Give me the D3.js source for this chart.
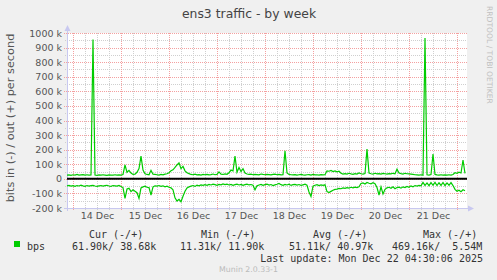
<!DOCTYPE html>
<html>
<head>
<meta charset="utf-8">
<script src="https://cdn.jsdelivr.net/npm/d3@7"></script>
<style>
body { margin:0; background:#f0f0f0; }
svg { display:block; }
text { font-family:"DejaVu Sans", sans-serif; }
.mono { font-family:"DejaVu Sans Mono", monospace; white-space:pre; }
</style>
</head>
<body>
<div id="chart"></div>
<script>
// ---- data (k bits/s), one point per hour from 13 Dec 21:00 ----
var outVals = [
  25,27,24,28,26,30,25,27,29,26,28,25,27,
  955,
  26,24,27,25,28,26,24,27,25,26,28,25,27,26,30,
  95,45,58,40,30,32,45,70,156,60,35,30,28,58,32,30,
  28,26,30,27,32,35,
  42,55,62,78,95,110,70,85,55,42,36,
  30,28,32,27,29,26,30,28,31,27,29,33,28,30,
  48,32,30,34,31,42,60,55,156,45,78,50,70,40,33,
  30,32,28,31,29,27,33,30,28,31,29,27,30,32,28,30,27,29,
  193,40,
  30,28,27,29,26,28,30,27,25,28,29,26,30,27,28,26,29,27,28,
  55,52,57,50,54,48,52,38,33,
  35,32,38,34,31,36,33,40,35,32,36,
  204,40,
  35,33,38,34,36,32,37,35,33,36,34,38,35,
  66,40,
  36,33,38,35,34,32,30,28,27,26,28,25,
  965,28,
  25,30,170,30,
  27,25,28,26,27,25,28,26,30,
  42,38,46,40,129,38
];
var inVals = [
  48,45,50,47,52,46,49,44,48,51,46,50,47,45,49,52,48,46,50,47,44,49,51,46,48,50,45,
  52,60,134,70,65,88,75,85,95,134,62,55,50,58,60,111,55,48,
  50,46,52,48,55,50,58,62,
  75,130,152,140,157,120,85,62,55,
  50,46,52,44,48,42,45,40,44,38,42,36,40,44,38,41,35,40,37,42,38,44,
  40,36,42,38,45,40,36,42,39,44,
  75,48,
  42,38,45,40,36,43,39,46,41,37,32,40,44,38,42,36,45,40,38,43,39,45,41,37,44,
  90,121,50,
  44,40,46,42,45,41,
  88,94,86,78,
  72,70,66,68,62,65,60,63,58,62,57,60,55,
  32,28,35,25,30,34,27,33,
  60,111,55,104,72,
  62,58,65,55,68,60,57,64,55,60,52,58,48,54,46,50,45,48,
  25,45,28,47,26,44,24,46,27,45,25,47,28,44,26,46,
  72,85,78,88,75,82
];
var yTicks = [-200,-100,0,100,200,300,400,500,600,700,800,900,1000];
var dayLabels = ['14 Dec','15 Dec','16 Dec','17 Dec','18 Dec','19 Dec','20 Dec','21 Dec'];
var statHeads = ['Cur (-/+)','Min (-/+)','Avg (-/+)','Max (-/+)'];
var statVals = ['61.90k/ 38.68k','11.31k/ 11.90k','51.11k/ 40.97k','469.16k/  5.54M'];
var seriesName = 'bps';
var lastUpdate = 'Last update: Mon Dec 22 04:30:06 2025';

const W = 497, H = 280;
const plot = {left:67, right:467, top:33, bottom:208};
const t0 = new Date(2025,11,13,21,0,0);
const t1 = new Date(2025,11,22,5,0,0);
const HOUR = 3600*1000;

const svg = d3.select('#chart').append('svg').attr('width',W).attr('height',H);
svg.append('rect').attr('width',W).attr('height',H).attr('fill','#f0f0f0');
svg.append('rect').attr('x',plot.left).attr('y',plot.top)
    .attr('width',plot.right-plot.left).attr('height',plot.bottom-plot.top).attr('fill','#ffffff');

var x = d3.scaleTime().domain([t0,t1]).range([plot.left,plot.right]);
var y = d3.scaleLinear().domain([-200,1000]).range([plot.bottom,plot.top]);

// minor grid
var grid = svg.append('g').attr('shape-rendering','crispEdges');
d3.range(-150,1000,100).forEach(v=>{
    grid.append('line').attr('x1',plot.left-2).attr('x2',plot.right)
        .attr('y1',Math.round(y(v))+0.5).attr('y2',Math.round(y(v))+0.5)
        .attr('stroke','#cfcfcf').attr('stroke-dasharray','1,1');
});
x.ticks(d3.timeHour.every(6)).forEach(t=>{
    if(t.getHours()==0) return;
    grid.append('line').attr('y1',plot.top).attr('y2',plot.bottom+3)
        .attr('x1',Math.round(x(t))+0.5).attr('x2',Math.round(x(t))+0.5)
        .attr('stroke','#cfcfcf').attr('stroke-dasharray','1,1');
});
// major grid
yTicks.forEach(v=>{
    grid.append('line').attr('x1',plot.left-3).attr('x2',plot.right)
        .attr('y1',Math.round(y(v))+0.5).attr('y2',Math.round(y(v))+0.5)
        .attr('stroke','#f4a0a0').attr('stroke-dasharray','1,1');
});
x.ticks(d3.timeDay.every(1)).forEach(t=>{
    grid.append('line').attr('y1',plot.top).attr('y2',plot.bottom+3)
        .attr('x1',Math.round(x(t))+0.5).attr('x2',Math.round(x(t))+0.5)
        .attr('stroke','#f4a0a0').attr('stroke-dasharray','1,1');
});

// axes lines + arrows
svg.append('line').attr('x1',plot.left+0.5).attr('x2',plot.left+0.5).attr('y1',plot.bottom+3).attr('y2',plot.top-4)
    .attr('stroke','#c8c8f0');
svg.append('line').attr('x1',plot.left-3).attr('x2',plot.right+3).attr('y1',plot.bottom+0.5).attr('y2',plot.bottom+0.5)
    .attr('stroke','#c8c8f0');
svg.append('path').attr('d',`M${plot.left-2.5},${plot.top-2} L${plot.left+0.5},${plot.top-8} L${plot.left+3.5},${plot.top-2} Z`).attr('fill','#c8c8f0');
svg.append('path').attr('d',`M${plot.right+1},${plot.bottom-2.5} L${plot.right+7},${plot.bottom+0.5} L${plot.right+1},${plot.bottom+3.5} Z`).attr('fill','#c8c8f0');

// y axis labels
var yAxis = d3.axisLeft(y).tickValues(yTicks).tickSize(0).tickPadding(0)
    .tickFormat(v=> v==0 ? '0' : v+' k');
var gy = svg.append('g').attr('transform',`translate(${plot.left-5},0)`).call(yAxis);
gy.select('.domain').remove();
gy.selectAll('text').attr('font-family','DejaVu Sans').attr('font-size','9.5px').attr('fill','#555');

// x axis day labels at noon
var noons = dayLabels.map((d,i)=>new Date(2025,11,14+i,12,0,0));
var xAxis = d3.axisBottom(x).tickValues(noons).tickSize(0).tickPadding(0)
    .tickFormat((d,i)=>dayLabels[i]);
var gx = svg.append('g').attr('transform',`translate(0,${plot.bottom+4})`).call(xAxis);
gx.select('.domain').remove();
gx.selectAll('text').attr('font-family','DejaVu Sans').attr('font-size','9.5px').attr('fill','#555');

// zero line
svg.append('line').attr('x1',plot.left).attr('x2',plot.right).attr('y1',y(0)).attr('y2',y(0))
    .attr('stroke','#000').attr('stroke-width',2);

// series
var times = outVals.map((d,i)=>new Date(t0.getTime()+i*HOUR));
var line = d3.line().x((d,i)=>x(times[i])).y(d=>y(d));
svg.append('path').datum(outVals).attr('d',line).attr('fill','none').attr('stroke','#00cc00').attr('stroke-width',1.2);
svg.append('path').datum(inVals.map(v=>-v)).attr('d',line).attr('fill','none').attr('stroke','#00cc00').attr('stroke-width',1.2);

// title
svg.append('text').attr('x',249).attr('y',18).attr('text-anchor','middle')
    .attr('font-size','12.4px').attr('fill','#444').text('ens3 traffic - by week');
// y label
svg.append('text').attr('transform','translate(14,118) rotate(-90)').attr('text-anchor','middle')
    .attr('font-size','11.3px').attr('fill','#555').text('bits in (-) / out (+) per second');
// watermark
svg.append('text').attr('transform','translate(487,6) rotate(90)')
    .attr('font-size','7.6px').attr('fill','#c0c0c0').text('RRDTOOL / TOBI OETIKER');

// legend
svg.append('rect').attr('x',14).attr('y',241).attr('width',6).attr('height',6).attr('fill','#00cc00');
var hx = [89,201,313,423], vx = [72,180,289,392];
statHeads.forEach((s,i)=>{
    svg.append('text').attr('class','mono').attr('x',hx[i]).attr('y',237.5)
        .attr('font-size','10px').attr('fill','#333').text(s);
    svg.append('text').attr('class','mono').attr('x',vx[i]).attr('y',249.5)
        .attr('font-size','10px').attr('fill','#333').text(statVals[i]);
});
svg.append('text').attr('class','mono').attr('x',27).attr('y',249.5)
    .attr('font-size','10px').attr('fill','#333').text(seriesName);
svg.append('text').attr('class','mono').attr('x',483).attr('y',261.5).attr('text-anchor','end')
    .attr('font-size','10px').attr('fill','#333').text(lastUpdate);
svg.append('text').attr('x',248.5).attr('y',272).attr('text-anchor','middle')
    .attr('font-size','7.8px').attr('fill','#bbb').text('Munin 2.0.33-1');
</script>
</body>
</html>
